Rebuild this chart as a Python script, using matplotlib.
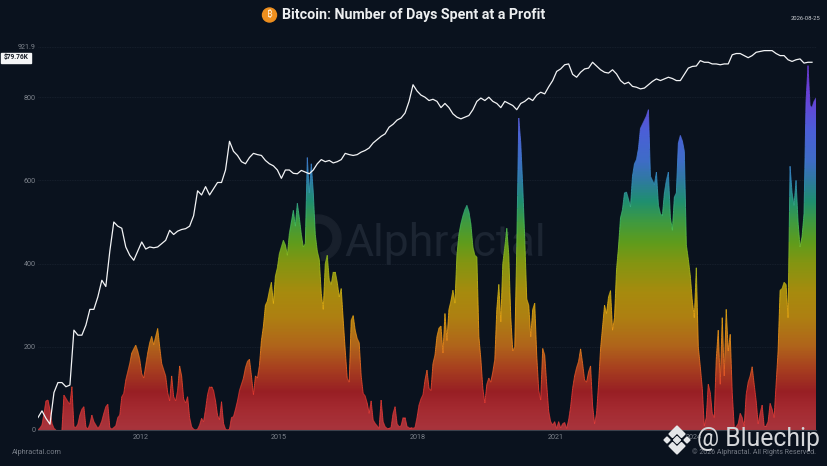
#Bitcoin days spent at a profit
import numpy as np
import pandas as pd
import matplotlib
matplotlib.use('Agg')
import matplotlib.pyplot as plt
import matplotlib.dates as mdates
from matplotlib.collections import LineCollection
from matplotlib.colors import LinearSegmentedColormap, Normalize
from matplotlib.patches import Circle, Polygon, Rectangle, Wedge
from matplotlib.transforms import IdentityTransform

W, H = 828, 466
plt.rcParams['font.family'] = ['Roboto', 'DejaVu Sans']

start_date = '2009-10-07'
end_date = '2026-08-25'

# number of days at a profit, one reading about every 16 days
profit_days = [
    0, 5, 12, 40, 70, 72, 48, 16, 4, 0,
    0, 0, 0, 84, 76, 68, 62, 104, 8, 6,
    14, 36, 50, 56, 8, 2, 14, 36, 20, 12,
    4, 10, 22, 40, 56, 62, 6, 2, 6, 10,
    30, 36, 80, 88, 120, 140, 160, 185, 195, 204,
    190, 170, 135, 125, 155, 185, 210, 225, 205, 225,
    244, 200,
    160, 145, 130, 90, 70, 130, 80, 70, 95, 154,
    130, 75, 65, 80, 30, 8, 2, 0, 2, 12,
    28, 20, 50, 85, 104, 104, 95, 70, 35, 25,
    68, 16, 2, 0, 2, 30, 32, 50, 70, 95,
    110, 125, 150, 165, 170, 130, 85, 130, 125, 155,
    215, 250, 300, 310, 335, 355, 304,
    370, 390, 424, 440, 456, 445, 420, 472, 500, 528,
    490, 545, 510, 470, 440, 448, 655, 570, 640, 570,
    470, 430, 410, 328, 290, 400, 420, 360, 350, 380,
    380, 355, 320, 340, 264, 192, 125, 115, 264, 275,
    240, 220, 210, 130, 88, 82, 65, 40, 70, 24,
    16, 10, 4,
    72, 20, 8, 4, 4, 6, 40, 56, 15, 8,
    10, 30, 30, 8, 6, 6, 4, 6, 30, 60,
    75, 85, 120, 144, 100, 95, 160, 180, 225, 245,
    250, 185, 280, 215, 290, 310, 336, 305, 420, 470,
    496, 515, 530, 540, 525, 495, 440, 420, 416, 225,
    170, 100, 65, 110, 125, 115, 140, 170, 290, 350,
    260, 400, 440, 485, 420, 270, 190, 200, 440, 750,
    690, 584, 460, 315, 300, 224, 290, 305, 180, 95,
    72,
    196, 180, 110, 45, 20, 12, 20, 4, 20, 5,
    15, 18, 4, 24, 56, 100, 130, 150, 165, 195,
    160, 120, 115, 140, 154, 60, 15, 40, 110, 195,
    248, 300, 280, 320, 335, 240, 270, 385, 440, 510,
    530, 570, 572, 555, 536, 610, 640, 650, 676, 725,
    735, 745, 755, 770, 610, 600, 590, 620, 540, 520,
    515, 570, 600, 620, 510, 480, 560, 570, 690, 708,
    695, 670, 445, 410, 370, 310, 270, 390, 200,
    152, 100, 10, 30, 110, 90, 40, 30, 170,
    240, 110, 270, 130, 290, 190, 230, 90, 8, 8,
    15, 40, 30, 8, 85, 115, 130, 152, 110, 70,
    15, 40, 60, 10, 10, 20, 64, 50, 30, 110,
    190, 336, 340, 355, 350, 270, 634, 570, 540, 600,
    500, 440, 464, 520, 790, 876, 780, 775, 790, 798,
]

# price line, read against the left scale, every second reading
price_line = [
    30, 46, 28, 14, 90, 114, 114, 104, 108, 240,
    228, 228, 252, 290, 290, 320, 360, 345, 430,
    500, 490, 485, 440, 420, 408, 430, 452, 435, 440,
    438, 440, 448, 456, 480, 470, 478, 482, 484, 490,
    515, 575, 565, 585, 565, 580, 595, 595, 625, 694,
    670, 660, 645, 640, 655, 665, 662, 660, 648, 640,
    635, 625, 605, 625, 625, 617, 616,
    624, 620, 616, 625, 640, 650, 645, 648, 642, 645,
    650, 665, 662, 660, 662, 668, 672,
    678, 690, 698, 706, 712, 728, 735, 745, 750, 762,
    790, 830, 815, 805, 800, 792, 795, 790, 775, 785,
    775, 760, 752, 748, 752, 756, 770, 790, 798, 792,
    800, 790, 785, 775, 790, 785, 780, 770, 785, 790,
    798, 792, 805, 812, 808, 825, 840, 862,
    868, 878, 880, 855, 848, 860, 868, 870, 884, 875,
    866, 860, 858, 866, 856, 840, 832, 836, 826, 824,
    820, 822, 830, 838, 844, 840, 844, 848, 845, 840,
    840, 855, 870, 874, 875, 888, 884, 884, 880, 880,
    878, 880, 880, 902, 905, 905, 900, 895, 900, 908,
    910, 912, 912, 912, 905, 900, 900, 890, 886, 890,
    892, 882, 884, 884,
]

y_ticks = [0, 200, 400, 600, 800, 921.9]
y_labels = ['0', '200', '400', '600', '800', '921.9']
x_tick_years = [2012, 2015, 2018, 2021, 2024]

bg = '#0a121e'
fill_colors = [(0, '#a8343c'), (50, '#a42a30'), (90, '#981f24'), (150, '#a8421f'),
               (200, '#b0641b'), (270, '#ae8012'), (330, '#a78b0e'), (400, '#849512'),
               (450, '#5f9c1c'), (500, '#3f9a40'), (550, '#1f8f70'), (600, '#2f7aa0'),
               (650, '#3f6cc8'), (720, '#4b5fd8'), (800, '#6a40d8'), (921.9, '#6a30c8')]
edge_colors = [(0, '#e8403f'), (90, '#e83a30'), (200, '#f08a1a'), (300, '#e8b010'),
               (420, '#8fbf20'), (500, '#40c060'), (600, '#3090c0'), (700, '#5070e0'),
               (850, '#7040e0'), (921.9, '#7040e0')]
fill_cmap = LinearSegmentedColormap.from_list('fill', [(v / 921.9, c) for v, c in fill_colors])
edge_cmap = LinearSegmentedColormap.from_list('edge', [(v / 921.9, c) for v, c in edge_colors])
norm = Normalize(0, 921.9)

dates = pd.date_range(start_date, end_date, periods=len(profit_days))
x = mdates.date2num(dates)
y = np.array(profit_days, dtype=float)

fig = plt.figure(figsize=(W / 100, H / 100), dpi=100, facecolor=bg)
ax = fig.add_axes([38 / W, (H - 430) / H, 778 / W, 383.5 / H], facecolor='none')

# faint watermark behind everything
fig.text(344 / W, 1 - 256 / H, 'Alphractal', color='#1c2532', fontsize=32, zorder=-1)
fig.add_artist(Wedge((318, H - 238), 23, -80, 110, width=8, color='#18202c',
                     transform=IdentityTransform(), zorder=-1))

# gradient area, colour goes with the value
grad = np.linspace(0, 921.9, 400).reshape(-1, 1)
im = ax.imshow(grad, cmap=fill_cmap, norm=norm, origin='lower', aspect='auto',
               extent=[x[0], x[-1], 0, 921.9], zorder=2)
area = ax.fill_between(x, 0, y, color='none')
im.set_clip_path(area.get_paths()[0], transform=ax.transData)

# brighter edge along the top of the area
t = np.linspace(0, len(x) - 1, (len(x) - 1) * 10 + 1)
ex = np.interp(t, np.arange(len(x)), x)
ey = np.interp(t, np.arange(len(x)), y)
segs = np.stack([np.c_[ex[:-1], ey[:-1]], np.c_[ex[1:], ey[1:]]], axis=1)
lc = LineCollection(segs, cmap=edge_cmap, norm=norm, linewidths=0.7, alpha=0.85, zorder=3)
lc.set_array((ey[:-1] + ey[1:]) / 2)
ax.add_collection(lc)

ax.plot(x[::2][:len(price_line)], price_line, color='#f2f3f5', lw=0.9, zorder=4)

ax.set_xlim(x[0], x[-1])
ax.set_ylim(0, 921.9)
ax.set_yticks(y_ticks)
ax.set_yticklabels(y_labels)
ax.set_xticks(mdates.date2num([pd.Timestamp(year=v, month=1, day=1) for v in x_tick_years]))
ax.set_xticklabels([str(v) for v in x_tick_years])
ax.tick_params(length=0, labelsize=5.2, labelcolor='#7d838c', pad=1.5)
ax.tick_params(axis='x', pad=3)
ax.grid(axis='y', color='#1a2330', lw=0.6, ls=(0, (1, 1)), zorder=1)
for side in ['top', 'left', 'right']:
    ax.spines[side].set_visible(False)
ax.spines['bottom'].set_color('#3b414c')
ax.spines['bottom'].set_linewidth(0.8)
ax.spines['bottom'].set_zorder(5)

# title and bitcoin badge
fig.add_artist(Circle((269.5, H - 15), 7, color='#ee8f1e', transform=IdentityTransform()))
fig.text(269.5 / W, 1 - 15 / H, '₿', color='#fbe6c8', fontsize=7, fontweight='bold',
         family=['Noto Sans', 'Inter', 'Open Sans', 'Lato', 'DejaVu Sans'], ha='center', va='center')
fig.text(282 / W, 1 - 15 / H, 'Bitcoin: Number of Days Spent at a Profit', color='#eceef0',
         fontsize=10.3, fontweight='bold', va='center')
fig.text(820 / W, 1 - 18.5 / H, '2026-08-25', color='#c8cbd0', fontsize=4.2,
         ha='right', va='center')

# price tag on the left
fig.add_artist(Rectangle((1, H - 62.5), 30, 10, color='#f4f5f6', transform=IdentityTransform()))
fig.text(4 / W, 1 - 57.5 / H, '$79.76K', color='#141a24', fontsize=4.8, fontweight='bold', va='center')

fig.text(12 / W, 1 - 452 / H, 'Alphractal.com', color='#767c86', fontsize=5.3, va='center')
fig.text(816 / W, 1 - 452 / H, '© 2026 Alphractal. All Rights Reserved.', color='#767c86',
         fontsize=5.1, ha='right', va='center')

# Bluechip stamp
fig.text(697 / W, 1 - 439 / H, '@ Bluechip', color='#d5d7da', fontsize=17.8, va='center', zorder=6)
cx, cy = 677, H - 440
logo_parts = [
    [(0, 14), (8, 6), (4.5, 2.5), (0, 7), (-4.5, 2.5), (-8, 6)],
    [(0, -14), (8, -6), (4.5, -2.5), (0, -7), (-4.5, -2.5), (-8, -6)],
    [(0, 3.5), (3.5, 0), (0, -3.5), (-3.5, 0)],
    [(-10, 3), (-7, 0), (-10, -3), (-13, 0)],
    [(10, 3), (13, 0), (10, -3), (7, 0)],
]
for part in logo_parts:
    fig.add_artist(Polygon([(cx + a, cy + b) for a, b in part], color='#e4e6e8',
                           transform=IdentityTransform(), zorder=6))

fig.savefig('out.png', dpi=100, facecolor=bg)
